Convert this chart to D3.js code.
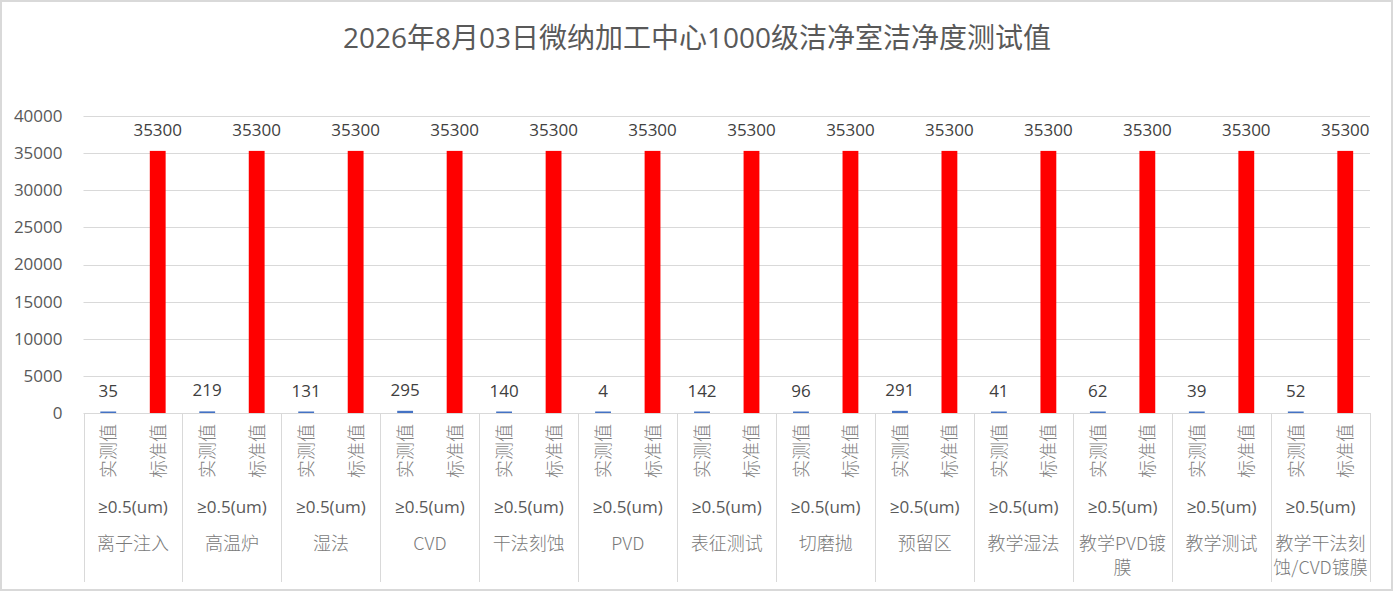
<!DOCTYPE html>
<html>
<head>
<meta charset="utf-8">
<script src="https://cdn.jsdelivr.net/npm/d3@7"></script>
<style>
  html, body { margin: 0; padding: 0; background: #fff; }
  svg { display: block; font-family: "Open Sans", "Noto Sans CJK SC", sans-serif; }
</style>
</head>
<body>
<div id="chart"></div>
<script>
// data
const rooms = ["离子注入", "高温炉", "湿法", "CVD", "干法刻蚀", "PVD", "表征测试", "切磨抛",
               "预留区", "教学湿法", "教学PVD镀膜", "教学测试", "教学干法刻蚀/CVD镀膜"];
const roomLines = [["离子注入"], ["高温炉"], ["湿法"], ["CVD"], ["干法刻蚀"], ["PVD"], ["表征测试"], ["切磨抛"],
                   ["预留区"], ["教学湿法"], ["教学PVD镀", "膜"], ["教学测试"], ["教学干法刻", "蚀/CVD镀膜"]];
const seriesNames = ["实测值", "标准值"];
const particleSize = "≥0.5(um)";
const measured = [35, 219, 131, 295, 140, 4, 142, 96, 291, 41, 62, 39, 52];
const standard = [35300, 35300, 35300, 35300, 35300, 35300, 35300, 35300, 35300, 35300, 35300, 35300, 35300];
const yTicks = [0, 5000, 10000, 15000, 20000, 25000, 30000, 35000, 40000];
const barColors = ["#4472c4", "#ff0000"];

const W = 1394, H = 593;
const plotLeft = 83.5, plotRight = 1370, plotTop = 116, plotBottom = 413;

const svg = d3.select("#chart").append("svg")
    .attr("width", W)
    .attr("height", H);

// chart frame
svg.append("rect")
    .attr("x", 1).attr("y", 1)
    .attr("width", W - 3).attr("height", H - 4)
    .attr("fill", "#fff")
    .attr("stroke", "#d9d9d9")
    .attr("stroke-width", 2);

svg.append("text")
    .attr("x", 697).attr("y", 48)
    .attr("text-anchor", "middle")
    .attr("font-size", 28)
    .attr("fill", "#595959")
    .text("2026年8月03日微纳加工中心1000级洁净室洁净度测试值");

const y = d3.scaleLinear().domain([0, 40000]).range([plotBottom, plotTop]);
const x0 = d3.scaleBand().domain(rooms).range([plotLeft, plotRight]);
const x1 = d3.scaleBand().domain(seriesNames).range([0, x0.bandwidth()]).paddingInner(0.68).paddingOuter(0.34);

// grid
svg.append("g").selectAll("line")
    .data(yTicks.filter(d => d > 0))
    .join("line")
    .attr("x1", plotLeft).attr("x2", plotRight)
    .attr("y1", d => Math.round(y(d)) + 0.5).attr("y2", d => Math.round(y(d)) + 0.5)
    .attr("stroke", "#d9d9d9");

// y axis labels
const yAxis = svg.append("g")
    .attr("transform", `translate(${plotLeft},0)`)
    .call(d3.axisLeft(y).tickValues(yTicks).tickFormat(d3.format("d")).tickSize(0).tickPadding(21));
yAxis.select(".domain").remove();
yAxis.selectAll("text")
    .attr("font-size", 17)
    .attr("fill", "#595959")
    .style("font-family", "'Open Sans', sans-serif");

// bars
const groups = svg.append("g").selectAll("g")
    .data(rooms)
    .join("g")
    .attr("transform", d => `translate(${x0(d)},0)`);

const cells = groups.selectAll("g")
    .data((d, i) => [
        { s: seriesNames[0], v: measured[i] },
        { s: seriesNames[1], v: standard[i] }
    ])
    .join("g");

cells.append("rect")
    .attr("x", d => x1(d.s))
    .attr("width", x1.bandwidth())
    .attr("y", d => Math.min(y(d.v), plotBottom - 1.5))
    .attr("height", d => Math.max(plotBottom - y(d.v), 1.5))
    .attr("fill", (d, i) => barColors[i]);

cells.append("text")
    .attr("x", d => x1(d.s) + x1.bandwidth() / 2)
    .attr("y", d => Math.min(y(d.v), plotBottom - 1.5) - 15)
    .attr("text-anchor", "middle")
    .attr("font-size", 17)
    .attr("fill", "#404040")
    .text(d => d.v);

// category axis
svg.append("line")
    .attr("x1", plotLeft).attr("x2", plotRight)
    .attr("y1", plotBottom + 0.5).attr("y2", plotBottom + 0.5)
    .attr("stroke", "#d9d9d9");

const bounds = rooms.map(r => x0(r)).concat([plotRight]);
svg.append("g").selectAll("line")
    .data(bounds)
    .join("line")
    .attr("x1", d => Math.round(d) + 0.5).attr("x2", d => Math.round(d) + 0.5)
    .attr("y1", plotBottom).attr("y2", 582)
    .attr("stroke", "#d9d9d9");

// level 1: rotated series names
groups.selectAll("text.series")
    .data(seriesNames)
    .join("text")
    .attr("class", "series")
    .attr("transform", d => `translate(${x1(d) + x1.bandwidth() / 2 + 7},${plotBottom + 11}) rotate(-90)`)
    .attr("text-anchor", "end")
    .attr("font-size", 18)
    .attr("fill", "#7f7f7f")
    .style("font-family", "'Noto Sans CJK SC', sans-serif")
    .style("font-weight", 300)
    .text(d => d);

// level 2: particle size
groups.append("text")
    .attr("x", x0.bandwidth() / 2)
    .attr("y", 513)
    .attr("text-anchor", "middle")
    .attr("font-size", 17)
    .attr("fill", "#595959")
    .text(particleSize);

// level 3: room names
groups.each(function (d, i) {
    d3.select(this).selectAll("text.room")
        .data(roomLines[i])
        .join("text")
        .attr("class", "room")
        .attr("x", x0.bandwidth() / 2)
        .attr("y", (t, j) => 550 + j * 24)
        .attr("text-anchor", "middle")
        .attr("font-size", 18)
        .attr("fill", "#7a7a7a")
        .style("font-family", "'Noto Sans CJK SC', sans-serif")
        .style("font-weight", 300)
        .text(t => t);
});
</script>
</body>
</html>
